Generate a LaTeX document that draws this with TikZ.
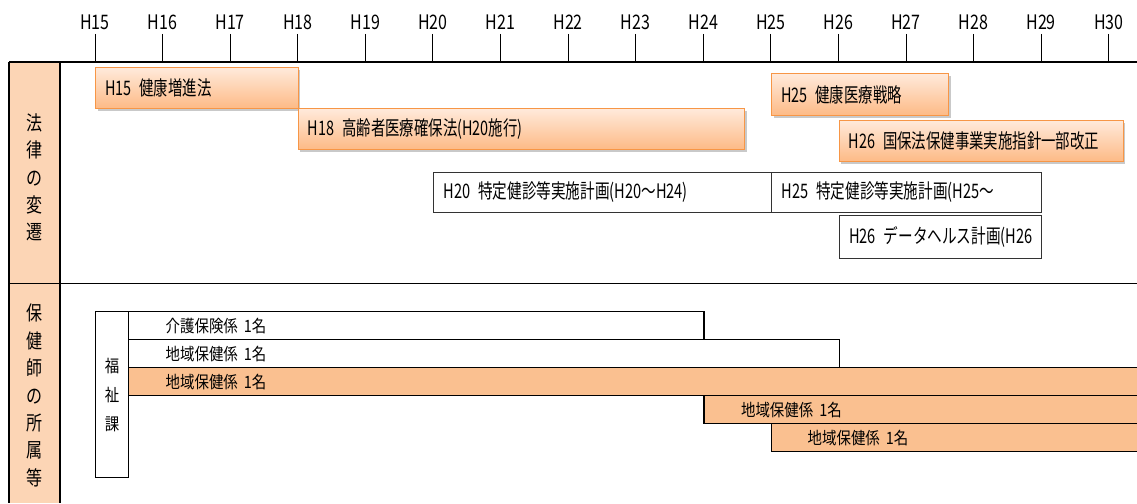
\documentclass[tikz,border=0pt]{standalone}
\usepackage{fontspec}
\setmainfont{Noto Sans CJK JP}
\newfontfamily\wfont[FakeStretch=0.73]{Noto Sans CJK JP}
\newfontfamily\ofont[FakeStretch=0.72]{Noto Sans CJK JP}
\newfontfamily\tfont[FakeStretch=0.8]{Noto Sans CJK JP}
\newfontfamily\rfont[FakeStretch=0.85]{Noto Sans CJK JP}
\usetikzlibrary{shadows}
\definecolor{peach}{HTML}{FCD5B5}
\definecolor{rowor}{HTML}{FAC090}
\definecolor{obord}{HTML}{F79646}
\definecolor{otop}{HTML}{FFEADB}
\definecolor{obot}{HTML}{FDBA86}
\tikzset{
  lawbox/.style={draw=obord, line width=1pt, top color=otop, bottom color=obot,
    drop shadow={shadow xshift=2pt, shadow yshift=-2.5pt, fill=black!60, opacity=0.35},
    anchor=north west, inner xsep=9.5pt, inner ysep=0pt, align=left,
    font=\ofont\fontsize{20}{24}\selectfont},
  planbox/.style={draw=black!80, line width=0.9pt, fill=white,
    anchor=north west, inner xsep=10pt, inner ysep=0pt, align=left,
    font=\wfont\fontsize{20}{24}\selectfont},
  rowbox/.style={draw=black, line width=1.3pt, anchor=north west, inner xsep=0pt,
    inner ysep=0pt, minimum height=28pt, align=left,
    font=\rfont\fontsize{17}{20}\selectfont},
  frame/.style={draw=black, line width=1.6pt},
  tickline/.style={draw=black, line width=0.9pt},
  ticklab/.style={font=\tfont\fontsize{20}{24}\selectfont, inner sep=0pt},
  sidetext/.style={align=center, inner sep=0pt, font=\tfont\fontsize{20}{27.4}\selectfont},
}
\newcommand\gp{\hspace{8pt}}
\begin{document}
\begin{tikzpicture}[x=1pt, y=-1pt]
\useasboundingbox (0,0) rectangle (1137,503);
\clip (0,0) rectangle (1137,503);
\fill[white] (0,0) rectangle (1137,503);

% sidebar
\fill[peach] (9,62) rectangle (60,503);
\node[sidetext] (side1) at (34.5,177.5) {法\\律\\の\\変\\遷};
\node[sidetext] (side2) at (34.5,395.5) {保\\健\\師\\の\\所\\属\\等};

% ticks
\foreach \n [count=\i from 0] in {15,...,30} {
  \coordinate (tk\n) at ({95+\i*67.58},34);
  \coordinate (tb\n) at ({95+\i*67.58},62);
  \node[ticklab] (lab\n) at ({95+\i*67.58},22) {H\n};
  \draw[tickline] (tk\n) -- (tb\n);
}

% frame lines
\coordinate (fa) at (9,62);   \coordinate (fb) at (1137,62);
\coordinate (fc) at (9,283.5); \coordinate (fd) at (1137,283.5);
\coordinate (fe) at (9,503);  \coordinate (ff) at (60,62); \coordinate (fg) at (60,503);
\draw[frame] (fa) -- (fb);
\draw[frame] (fc) -- (fd);
\draw[frame] (fa) -- (fe);
\draw[frame] (ff) -- (fg);

% law boxes
\node[lawbox, text width=183.8pt, minimum height=41pt] (l15) at (95,67) {\mbox{H15\gp 健康増進法}};
\node[lawbox, text width=427.2pt, minimum height=41pt] (l18) at (297.8,108) {\mbox{H18\gp 高齢者医療確保法(H20施行)}};
\node[lawbox, text width=158pt, minimum height=42pt] (l25) at (771,73) {\mbox{H25\gp 健康医療戦略}};
\node[lawbox, text width=264.9pt, minimum height=41.5pt] (l26) at (838.6,119.5) {\mbox{H26\gp 国保法保健事業実施指針一部改正}};

% plan boxes
\node[planbox, text width=318pt, minimum height=40pt] (p20) at (433,172) {\mbox{H20\gp 特定健診等実施計画(H20～H24)}};
\node[planbox, text width=249.5pt, minimum height=40pt] (p25) at (771,172) {\mbox{H25\gp 特定健診等実施計画(H25～}};
\node[planbox, text width=181.9pt, minimum height=43.5pt] (p26) at (838.6,214.5) {\mbox{H26\gp データヘルス計画(H26}};

% staff rows
\node[rowbox, fill=white, text width=575.4pt] (r1) at (128,311) {\hspace*{37pt}介護保険係\hspace{6pt}1名};
\node[rowbox, fill=white, text width=710.6pt] (r2) at (128,339) {\hspace*{37pt}地域保健係\hspace{6pt}1名};
\node[rowbox, fill=rowor, text width=1020pt] (r3) at (128,367) {\hspace*{37pt}地域保健係\hspace{6pt}1名};
\node[rowbox, fill=rowor, text width=445pt] (r4) at (703.4,395) {\hspace*{37pt}地域保健係\hspace{6pt}1名};
\node[rowbox, fill=rowor, text width=380pt] (r5) at (771,423) {\hspace*{36pt}地域保健係\hspace{6pt}1名};

% fukushi-ka
\node[draw=black, line width=1.2pt, fill=white, anchor=north west, minimum width=33pt,
  minimum height=166pt, inner sep=0pt, align=center,
  font=\rfont\fontsize{17}{29}\selectfont] (fk) at (95,311) {福\\祉\\課};
\end{tikzpicture}
\end{document}
